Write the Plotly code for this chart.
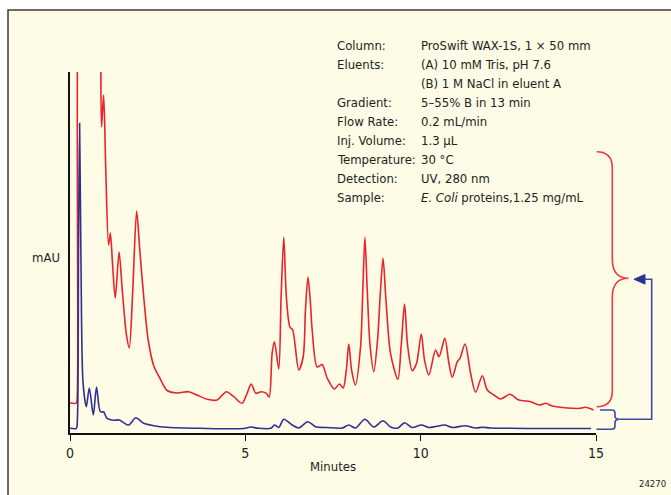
import plotly.graph_objects as go

# ---------------- data (minutes, mAU) ----------------
red_t = [0.0, 0.18, 0.208, 0.23, 0.55, 0.86, 0.90, 0.96, 1.02, 1.10, 1.15, 1.21, 1.29, 1.40, 1.49,
         1.61, 1.69, 1.79, 1.90, 1.99, 2.10, 2.23, 2.39, 2.56, 2.77, 3.06, 3.385, 3.62, 3.91, 4.195,
         4.46, 4.67, 4.91, 5.05, 5.166, 5.30, 5.45, 5.60, 5.68, 5.765, 5.83, 5.953, 6.02, 6.096, 6.17,
         6.27, 6.35, 6.524, 6.65, 6.715, 6.787, 6.86, 6.906, 7.05, 7.19, 7.334, 7.54, 7.685, 7.79,
         7.88, 7.95, 8.03, 8.14, 8.285, 8.35, 8.41, 8.476, 8.556, 8.664, 8.77, 8.855, 8.927, 9.01,
         9.14, 9.35, 9.446, 9.54, 9.626, 9.76, 9.883, 10.017, 10.11, 10.234, 10.425, 10.525, 10.69,
         10.80, 10.90, 11.045, 11.12, 11.267, 11.424, 11.567, 11.758, 11.90, 12.09, 12.28, 12.545,
         12.80, 13.14, 13.374, 13.565, 13.756, 14.18, 14.556, 14.70, 14.93]
red_v = [30, 30, 38, 450, 700, 420, 306, 338, 263, 188, 200, 171, 135, 181, 143,
         98, 85, 143, 222, 183, 137, 93, 67, 55, 42.5, 40, 41.3, 38, 33.7, 33,
         41.3, 36.3, 29.7, 39.7, 49, 39.7, 41.3, 39.7, 36, 80, 91.3, 64, 136, 195.7, 136,
         106, 103, 63, 76, 123, 156, 128, 103, 66, 68.5, 55, 44, 49, 45,
         63, 89, 63, 48, 86, 143, 195.7, 143, 88, 61.3, 93, 143, 174.7, 133,
         79.7, 53.7, 88, 129, 88, 62.3, 69.7, 99, 73, 58, 83, 76.3, 94.7,
         71, 55.7, 71.3, 74.7, 89, 59.7, 40.7, 57.3, 43, 38, 34, 38.7,
         33, 31.3, 28, 29.7, 27, 25, 24.7, 25.7, 23]

blue_t = [0.0, 0.18, 0.21, 0.243, 0.274, 0.314, 0.371, 0.465, 0.551, 0.665, 0.756, 0.865, 0.96,
          1.056, 1.244, 1.407, 1.672, 1.878, 2.10, 2.386, 2.768, 3.72, 4.95, 5.15, 5.37, 5.73,
          5.83, 5.953, 6.096, 6.336, 6.524, 6.78, 7.0, 7.334, 7.76, 7.95, 8.14, 8.41, 8.664,
          8.927, 9.14, 9.35, 9.54, 9.76, 10.017, 10.234, 10.425, 10.69, 10.90, 11.267, 11.567,
          11.758, 12.0, 12.57, 13.43, 14.3, 14.86]
blue_v = [4.7, 4.7, 13, 183, 309.7, 168, 51, 26.3, 45, 18, 46, 21.3, 21,
          14.7, 12.7, 13, 8, 15.3, 9.7, 7.3, 5.7, 4.7, 4.5, 6, 4.7, 4.7,
          8, 5.5, 13.7, 8, 5, 11.3, 6.3, 5.5, 5, 8, 5, 13.7, 6,
          12.3, 6, 5, 10.3, 5.5, 8, 5.5, 6.5, 8, 5.5, 7.3, 5,
          5.7, 5, 4.7, 4.5, 4.5, 4.5]

x_ticks = [0, 5, 10, 15]
info_labels = ["Column:", "Eluents:", "", "Gradient:", "Flow Rate:", "Inj. Volume:",
               "Temperature:", "Detection:", "Sample:"]
info_values = ["ProSwift WAX-1S, 1 × 50 mm", "(A) 10 mM Tris, pH 7.6", "(B) 1 M NaCl in eluent A",
               "5–55% B in 13 min", "0.2 mL/min", "1.3 µL", "30 °C", "UV, 280 nm",
               "<i>E. Coli</i> proteins,1.25 mg/mL"]

# ---------------- layout geometry ----------------
W, H = 671, 495
PL, PR, PT, PB = 70, 596, 72, 433
FONT = "DejaVu Sans Condensed, Liberation Sans Narrow, Arial Narrow, sans-serif"
FS = 13
TXT = "#231f20"
RED = "#e8232b"
BLUE = "#2e3192"


def px(x):
    return (x - PL) / (PR - PL)


def py(y):
    return (PB - y) / (PB - PT)


def P(x, y):
    return f"{px(x):.5f},{py(y):.5f}"


fig = go.Figure()
fig.add_trace(go.Scatter(x=red_t, y=red_v, mode="lines",
                         line=dict(color=RED, width=1.6, shape="spline", smoothing=0.8),
                         hoverinfo="skip", showlegend=False))
fig.add_trace(go.Scatter(x=blue_t, y=blue_v, mode="lines",
                         line=dict(color=BLUE, width=1.6, shape="spline", smoothing=0.8),
                         hoverinfo="skip", showlegend=False))

shapes = []
# cream frame with border
shapes.append(dict(type="rect", xref="paper", yref="paper", layer="below",
                   x0=px(8), x1=px(680), y0=py(10), y1=py(505),
                   fillcolor="#fefbe7", line=dict(color="#3a3a3a", width=1.5)))
# red curly bracket
red_path = ("M " + P(596.7, 151.7) + " Q " + P(612.3, 151.7) + " " + P(612.3, 168) +
            " L " + P(612.3, 259) + " Q " + P(612.3, 278.3) + " " + P(628.5, 278.3) +
            " Q " + P(612.3, 278.3) + " " + P(612.3, 297.5) + " L " + P(612.3, 391) +
            " Q " + P(612.3, 406.7) + " " + P(596.7, 406.7))
shapes.append(dict(type="path", xref="paper", yref="paper", path=red_path,
                   line=dict(color="#ee3a43", width=1.6)))
# blue bracket
blue_path = ("M " + P(600, 410) + " L " + P(612, 410) + " Q " + P(615, 410) + " " + P(615, 413) +
             " L " + P(615, 416) + " Q " + P(615, 419.3) + " " + P(619.5, 419.3) +
             " Q " + P(615, 419.3) + " " + P(615, 422.6) + " L " + P(615, 426) +
             " Q " + P(615, 429.3) + " " + P(612, 429.3) + " L " + P(596.5, 429.3))
shapes.append(dict(type="path", xref="paper", yref="paper", path=blue_path,
                   line=dict(color="#3d4a9e", width=1.6)))
# blue connector to arrow
conn_path = ("M " + P(619.5, 419.3) + " L " + P(651.7, 419.3) + " L " + P(651.7, 279.3) +
             " L " + P(643, 279.3))
shapes.append(dict(type="path", xref="paper", yref="paper", path=conn_path,
                   line=dict(color="#3d4a9e", width=1.6)))
arrow_path = "M " + P(634, 279.3) + " L " + P(645, 274.5) + " L " + P(645, 284.1) + " Z"
shapes.append(dict(type="path", xref="paper", yref="paper", path=arrow_path,
                   fillcolor="#2e3192", line=dict(color="#2e3192", width=1)))

annotations = []
for i, (lab, val) in enumerate(zip(info_labels, info_values)):
    yy = 45 + 19.1 * i
    if lab:
        annotations.append(dict(xref="paper", yref="paper", x=px(335), y=py(yy), text=lab,
                                showarrow=False, xanchor="left", yanchor="middle",
                                font=dict(family=FONT, size=FS, color=TXT)))
    annotations.append(dict(xref="paper", yref="paper", x=px(419), y=py(yy), text=val,
                            showarrow=False, xanchor="left", yanchor="middle",
                            font=dict(family=FONT, size=FS, color=TXT)))
annotations.append(dict(xref="paper", yref="paper", x=px(62), y=py(257), text="mAU",
                        showarrow=False, xanchor="right", yanchor="middle",
                        font=dict(family=FONT, size=FS, color=TXT)))
annotations.append(dict(xref="paper", yref="paper", x=px(333), y=py(466), text="Minutes",
                        showarrow=False, xanchor="center", yanchor="middle",
                        font=dict(family=FONT, size=FS, color=TXT)))
annotations.append(dict(xref="paper", yref="paper", x=px(652), y=py(483), text="24270",
                        showarrow=False, xanchor="center", yanchor="middle",
                        font=dict(family=FONT, size=9.5, color=TXT)))

fig.update_layout(
    width=W, height=H,
    margin=dict(l=PL, r=W - PR, t=PT, b=H - PB, pad=0),
    paper_bgcolor="white", plot_bgcolor="rgba(0,0,0,0)",
    shapes=shapes, annotations=annotations, showlegend=False,
    xaxis=dict(range=[0, 15], tickvals=x_ticks, ticktext=[str(v) for v in x_ticks],
               showline=True, linecolor="#111", linewidth=1.5, ticks="outside", ticklen=6,
               tickwidth=1.2, tickcolor="#111", showgrid=False, zeroline=False,
               tickfont=dict(family=FONT, size=14, color=TXT)),
    yaxis=dict(range=[0, 361], showline=True, linecolor="#111", linewidth=1.5,
               showticklabels=False, ticks="", showgrid=False, zeroline=False),
)

fig.write_html("out.html")
